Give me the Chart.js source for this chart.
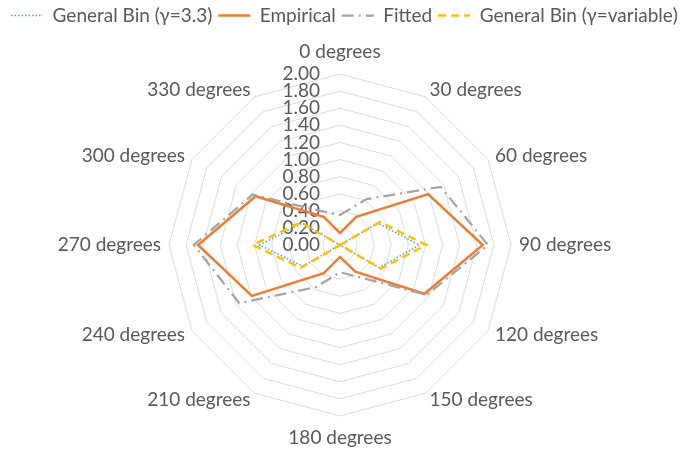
<!DOCTYPE html>
<html>
<head>
<meta charset="utf-8">
<script src="https://cdn.jsdelivr.net/npm/chart.js@4/dist/chart.umd.min.js"></script>
<style>
  html, body { margin: 0; padding: 0; background: #ffffff; }
  #wrap { width: 689px; height: 451px; position: relative; }
</style>
</head>
<body>
<div id="wrap"><canvas id="chart"></canvas></div>
<script>
// Direction categories (clockwise from the top)
const categories = [
  '0 degrees', '30 degrees', '60 degrees', '90 degrees', '120 degrees', '150 degrees',
  '180 degrees', '210 degrees', '240 degrees', '270 degrees', '300 degrees', '330 degrees'
];

// Series values per direction
const generalBinFixed    = [0, 0, 0.51, 0.93, 0.53, 0, 0, 0, 0.50, 0.94, 0.51, 0];
const empirical          = [0.14, 0.38, 1.19, 1.67, 1.14, 0.36, 0.14, 0.38, 1.19, 1.66, 1.14, 0.38];
const fitted             = [0.35, 0.62, 1.36, 1.73, 1.17, 0.43, 0.32, 0.57, 1.36, 1.71, 1.18, 0.46];
const generalBinVariable = [0, 0, 0.54, 1.01, 0.55, 0, 0, 0, 0.53, 1.02, 0.53, 0];

// Radial axis tick labels
const tickLabels = ['0.00', '0.20', '0.40', '0.60', '0.80', '1.00', '1.20', '1.40', '1.60', '1.80', '2.00'];

const TEXT_COLOR = '#595959';
const FONT_FAMILY = 'Lato, "Open Sans", sans-serif';

// Draws the value labels beside the vertical axis and the direction labels round the rim
const axisText = {
  id: 'axisText',
  beforeDatasetsDraw(chart) {
    const s = chart.scales.r;
    const ctx = chart.ctx;
    ctx.save();
    ctx.fillStyle = TEXT_COLOR;
    ctx.font = '19px ' + FONT_FAMILY;
    ctx.textBaseline = 'middle';

    ctx.textAlign = 'right';
    tickLabels.forEach(t => {
      const d = s.getDistanceFromCenterForValue(parseFloat(t));
      ctx.fillText(t, s.xCenter - 20, s.yCenter - d);
    });

    categories.forEach((label, i) => {
      const angle = s.getIndexAngle(i);
      const sin = Math.sin(angle);
      const vertical = Math.abs(sin) < 0.01;
      const p = s.getPointPosition(i, s.drawingArea + (vertical ? 22 : 8));
      ctx.textAlign = vertical ? 'center' : (sin > 0 ? 'left' : 'right');
      ctx.fillText(label, p.x, p.y);
    });
    ctx.restore();
  }
};

const lineSet = (label, data, color, width, dash, order) => ({
  label, data,
  borderColor: color,
  backgroundColor: color,
  borderWidth: width,
  borderDash: dash,
  fill: false,
  pointRadius: 0,
  pointHoverRadius: 0,
  tension: 0,
  order
});

// Legend entries drawn as short line samples with each series' own dash pattern
const legendItems = (chart) => {
  const items = Chart.defaults.plugins.legend.labels.generateLabels(chart);
  items.forEach(item => {
    const ds = chart.data.datasets[item.datasetIndex];
    item.lineDash = ds.borderDash;
    item.lineWidth = ds.borderWidth;
    item.strokeStyle = ds.borderColor;
  });
  return items;
};

new Chart(document.getElementById('chart'), {
  type: 'radar',
  data: {
    labels: categories,
    datasets: [
      lineSet('General Bin (\u03b3=3.3)', generalBinFixed, '#5b9bd5', 1.5, [1.5, 2], 3),
      lineSet('Empirical', empirical, '#ed7d31', 2.5, [], 2),
      lineSet('Fitted', fitted, '#a5a5a5', 2.25, [12, 5, 2, 5], 1),
      lineSet('General Bin (\u03b3=variable)', generalBinVariable, '#ffc000', 2.5, [8, 5], 0)
    ]
  },
  options: {
    responsive: true,
    maintainAspectRatio: false,
    animation: false,
    devicePixelRatio: 1,
    plugins: {
      legend: {
        position: 'top',
        labels: {
          usePointStyle: true,
          pointStyle: 'line',
          pointStyleWidth: 32,
          color: TEXT_COLOR,
          font: { family: FONT_FAMILY, size: 19 },
          padding: 6,
          generateLabels: legendItems,
          sort: (a, b) => a.datasetIndex - b.datasetIndex
        }
      },
      tooltip: { enabled: false }
    },
    scales: {
      r: {
        min: 0,
        max: 2,
        ticks: { stepSize: 0.2, display: false },
        pointLabels: { display: false },
        angleLines: { display: false },
        grid: { color: '#dcdcdc', lineWidth: 1 },
        afterFit(scale) {
          scale.xCenter = 340;
          scale.yCenter = 245;
          scale.drawingArea = 171;
        }
      }
    }
  },
  plugins: [axisText]
});
</script>
</body>
</html>
